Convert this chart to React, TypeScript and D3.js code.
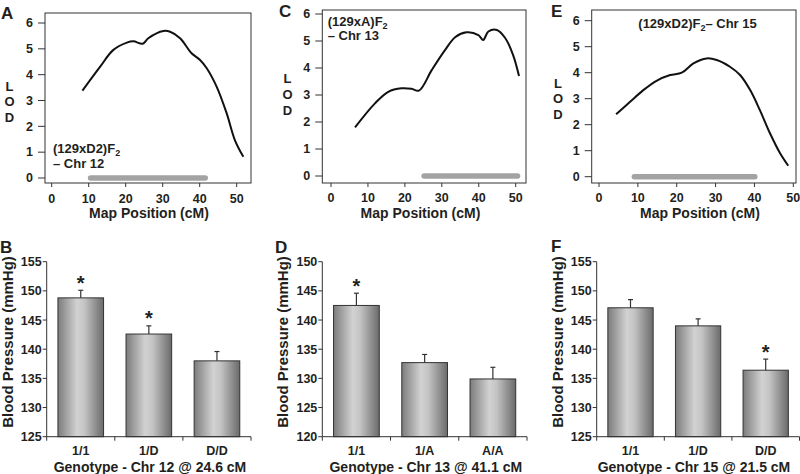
import React from "react";
import * as d3 from "d3";

// ---------- LOD curves (cM, LOD) ----------
const cmA = [8.3, 13.1, 16.6, 20.3, 22.1, 24.6, 26.1, 30.2, 32.0, 34.7, 37.8, 40.1, 41.9, 44.6, 47.3, 49.5, 51.8];
const lodA = [3.38, 4.31, 4.95, 5.24, 5.29, 5.2, 5.41, 5.69, 5.66, 5.41, 4.83, 4.57, 4.25, 3.53, 2.5, 1.47, 0.82];
const ciA = [10.5, 41.5];

const cmC = [6.5, 11.9, 15.5, 19.1, 21.8, 23.8, 27.3, 30.9, 33.6, 36.7, 39.9, 41.2, 42.6, 44.9, 47.1, 49.3, 50.9];
const lodC = [1.8, 2.69, 3.12, 3.25, 3.23, 3.16, 3.93, 4.67, 5.14, 5.32, 5.22, 5.04, 5.35, 5.41, 5.12, 4.48, 3.7];
const ciC = [25.2, 50.5];

const cmE = [4.4, 8.0, 11.4, 14.8, 18.3, 21.3, 24.3, 27.7, 30.3, 33.7, 36.3, 38.9, 41.4, 44.0, 46.6, 48.7];
const lodE = [2.4, 2.88, 3.33, 3.69, 3.91, 4.0, 4.36, 4.55, 4.49, 4.23, 3.91, 3.33, 2.56, 1.67, 0.9, 0.42];
const ciE = [9.1, 40.1];

const lodTicks = [0, 1, 2, 3, 4, 5, 6];
const cmTicks = [0, 10, 20, 30, 40, 50];

// ---------- Blood pressure bars ----------
const genoB = ["1/1", "1/D", "D/D"];
const meanB = [148.8, 142.6, 138.0];
const errB = [1.3, 1.4, 1.6];
const sigB = [true, true, false];
const ticksB = [125, 130, 135, 140, 145, 150, 155];

const genoD = ["1/1", "1/A", "A/A"];
const meanD = [142.5, 132.7, 129.9];
const errD = [2.1, 1.4, 2.0];
const sigD = [true, false, false];
const ticksD = [120, 125, 130, 135, 140, 145, 150];

const genoF = ["1/1", "1/D", "D/D"];
const meanF = [147.1, 144.0, 136.4];
const errF = [1.4, 1.2, 1.9];
const sigF = [false, false, true];
const ticksF = [125, 130, 135, 140, 145, 150, 155];

const FONT = "'Liberation Sans', Arial, Helvetica, sans-serif";
const INK = "#231f20";

function LodPanel(props: any) {
  const { cm, lod, ci, letter, L } = props;
  const x = d3.scaleLinear().domain([0, 50]).range(L.xr);
  const y = d3.scaleLinear().domain([0, 6]).range(L.yr);
  const pts = cm.map((c: number, i: number) => [c, lod[i]] as [number, number]);
  const line = d3
    .line<[number, number]>()
    .x((d) => x(d[0]))
    .y((d) => y(d[1]))
    .curve(d3.curveCatmullRom.alpha(0.5));
  const [fx0, fy0, fx1, fy1] = L.frame;
  return (
    <g fontFamily={FONT} fontWeight="bold" fill={INK}>
      <text x={L.letter[0]} y={L.letter[1]} fontSize={17}>{letter}</text>
      <rect x={fx0} y={fy0} width={fx1 - fx0} height={fy1 - fy0} fill="none" stroke="#333" strokeWidth={1} />
      {lodTicks.map((t) => (
        <g key={"y" + t}>
          <line x1={fx0 - 7} x2={fx0} y1={y(t)} y2={y(t)} stroke="#333" />
          <text x={fx0 - 12} y={y(t) + 4.3} fontSize={12.5} textAnchor="end">{t}</text>
        </g>
      ))}
      {cmTicks.map((t) => (
        <g key={"x" + t}>
          <line x1={x(t)} x2={x(t)} y1={fy1} y2={fy1 + 4} stroke="#333" />
          <text x={x(t)} y={L.tickY} fontSize={12.5} textAnchor="middle">{t}</text>
        </g>
      ))}
      <text x={L.titleX} y={L.titleY} fontSize={14} textAnchor="middle">Map Position (cM)</text>
      {["L", "O", "D"].map((ch, i) => (
        <text key={ch} x={L.lodX} y={L.lodY[i]} fontSize={13} textAnchor="middle">{ch}</text>
      ))}
      <line x1={x(ci[0])} x2={x(ci[1])} y1={y(0)} y2={y(0)} stroke="#a3a3a3" strokeWidth={5.5} strokeLinecap="round" />
      <path d={line(pts) || ""} fill="none" stroke="#111" strokeWidth={2} />
      {L.labels.map((lb: any, i: number) => (
        <text key={i} x={lb.x} y={lb.y} fontSize={13}>
          {lb.text}
          {lb.sub ? (
            <tspan fontSize={9} dy={3}>{lb.sub}</tspan>
          ) : null}
          {lb.after ? (
            <tspan dy={-3}>{lb.after}</tspan>
          ) : null}
        </text>
      ))}
    </g>
  );
}

function BarPanel(props: any) {
  const { geno, mean, err, sig, ticks, letter, title, L, gid } = props;
  const y = d3.scaleLinear().domain([ticks[0], ticks[ticks.length - 1]]).range([436.7, 261.7]);
  const x = d3.scaleBand<string>().domain(geno).range(L.xr).paddingInner(0.33).paddingOuter(0.165);
  const step = x.step();
  const bw = x.bandwidth();
  const ax = L.xr[0];
  const bounds = geno.map((g: string) => (x(g) as number) - step * 0.165).concat([L.xr[1]]);
  return (
    <g fontFamily={FONT} fontWeight="bold" fill={INK}>
      <text x={L.letter[0]} y={L.letter[1]} fontSize={17}>{letter}</text>
      {geno.map((g: string, i: number) => {
        const bx = x(g) as number;
        const top = y(mean[i]);
        const et = y(mean[i] + err[i]);
        const cx = bx + bw / 2;
        return (
          <g key={g}>
            <rect x={bx} y={top} width={bw} height={y(ticks[0]) - top} fill={`url(#${gid})`} stroke="#333" strokeWidth={1} />
            <line x1={cx} x2={cx} y1={top} y2={et} stroke="#333" strokeWidth={1.2} />
            <line x1={cx - 2.5} x2={cx + 2.5} y1={et} y2={et} stroke="#333" strokeWidth={1.2} />
            {sig[i] ? (
              <text x={cx} y={et - 0.5} fontSize={20} textAnchor="middle">*</text>
            ) : null}
            <text x={cx} y={455} fontSize={12.5} textAnchor="middle">{g}</text>
          </g>
        );
      })}
      <line x1={ax} x2={ax} y1={y(ticks[0])} y2={y(ticks[ticks.length - 1])} stroke="#333" />
      <line x1={ax} x2={L.xr[1]} y1={y(ticks[0])} y2={y(ticks[0])} stroke="#333" />
      {bounds.map((b: number, i: number) => (
        <line key={"b" + i} x1={b} x2={b} y1={y(ticks[0])} y2={y(ticks[0]) + 4} stroke="#333" />
      ))}
      {ticks.map((t: number) => (
        <g key={t}>
          <line x1={ax - 4} x2={ax} y1={y(t)} y2={y(t)} stroke="#333" />
          <text x={ax - 5} y={y(t) + 4.5} fontSize={12.5} textAnchor="end">{t}</text>
        </g>
      ))}
      <text transform={`translate(${ax - 34},342) rotate(-90)`} fontSize={15} textAnchor="middle">Blood Pressure (mmHg)</text>
      <text x={L.titleX} y={472} fontSize={14} textAnchor="middle">{title}</text>
    </g>
  );
}

export default function App() {
  return (
    <svg width={800} height={474} style={{ position: "absolute", left: 0, top: 0, background: "#fff" }}>
      <defs>
        {["gB", "gD", "gF"].map((id) => (
          <linearGradient key={id} id={id} x1="0" x2="1" y1="0" y2="0">
            <stop offset="0%" stopColor="#7c7c7c" />
            <stop offset="42%" stopColor="#d2d2d2" />
            <stop offset="58%" stopColor="#c4c4c4" />
            <stop offset="100%" stopColor="#6a6a6a" />
          </linearGradient>
        ))}
      </defs>
      <rect x={0} y={0} width={800} height={474} fill="#fff" />
      <LodPanel
        cm={cmA}
        lod={lodA}
        ci={ciA}
        letter="A"
        L={{
          frame: [45, 13, 251, 183],
          xr: [51.7, 236.7],
          yr: [178, 23],
          letter: [1, 18.5],
          tickY: 203,
          titleX: 149,
          titleY: 218,
          lodX: 9.5,
          lodY: [90.5, 106.3, 121.7],
          labels: [
            { x: 53, y: 153, text: "(129xD2)F", sub: "2" },
            { x: 53, y: 168, text: "– Chr 12" },
          ],
        }}
      />
      <LodPanel
        cm={cmC}
        lod={lodC}
        ci={ciC}
        letter="C"
        L={{
          frame: [322.3, 10, 526, 183],
          xr: [331, 515.7],
          yr: [176, 14],
          letter: [279, 16.7],
          tickY: 201.5,
          titleX: 420.5,
          titleY: 218,
          lodX: 287.5,
          lodY: [82.7, 99, 115],
          labels: [
            { x: 327.7, y: 25.5, text: "(129xA)F", sub: "2" },
            { x: 327.7, y: 39.5, text: "– Chr 13" },
          ],
        }}
      />
      <LodPanel
        cm={cmE}
        lod={lodE}
        ci={ciE}
        letter="E"
        L={{
          frame: [591.7, 10, 796, 183],
          xr: [599, 793.3],
          yr: [176.7, 20.7],
          letter: [551, 17],
          tickY: 201.5,
          titleX: 700,
          titleY: 218,
          lodX: 558,
          lodY: [87.5, 103, 118.5],
          labels: [{ x: 638.3, y: 28.3, text: "(129xD2)F", sub: "2", after: "– Chr 15" }],
        }}
      />
      <BarPanel geno={genoB} mean={meanB} err={errB} sig={sigB} ticks={ticksB} letter="B" gid="gB"
        title="Genotype - Chr 12 @ 24.6 cM" L={{ xr: [46.7, 251], letter: [0, 253], titleX: 150 }} />
      <BarPanel geno={genoD} mean={meanD} err={errD} sig={sigD} ticks={ticksD} letter="D" gid="gD"
        title="Genotype - Chr 13 @ 41.1 cM" L={{ xr: [322.3, 527], letter: [275, 253], titleX: 425.8 }} />
      <BarPanel geno={genoF} mean={meanF} err={errF} sig={sigF} ticks={ticksF} letter="F" gid="gF"
        title="Genotype - Chr 15 @ 21.5 cM" L={{ xr: [596.7, 799.5], letter: [551, 252], titleX: 694 }} />
    </svg>
  );
}
